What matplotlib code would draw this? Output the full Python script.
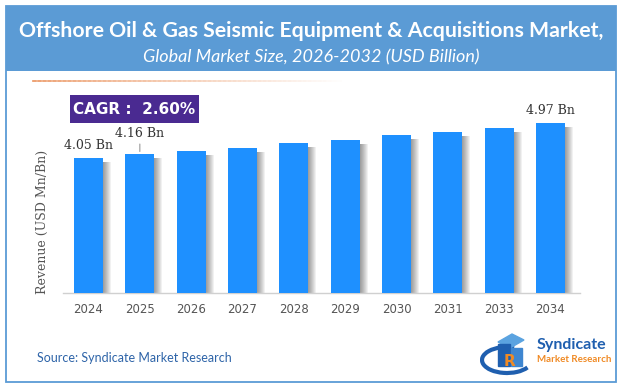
import matplotlib
matplotlib.use("Agg")
import matplotlib.pyplot as plt
from matplotlib.patches import Rectangle, Arc, Polygon
import numpy as np

years = ["2024", "2025", "2026", "2027", "2028", "2029", "2030", "2031", "2033", "2034"]
values = [4.05, 4.16, 4.27, 4.36, 4.49, 4.60, 4.73, 4.84, 4.96, 5.11]
label_text = {0: "4.05 Bn", 1: "4.16 Bn", 9: "4.97 Bn"}
title = "Offshore Oil & Gas Seismic Equipment & Acquisitions Market,"
subtitle = "Global Market Size, 2026-2032 (USD Billion)"
cagr = "CAGR :  2.60%"
source = "Source: Syndicate Market Research"

W, H = 622, 389
fig = plt.figure(figsize=(W / 100, H / 100), dpi=100)
fig.patch.set_facecolor("white")

def fx(x):
    return x / W

def fy(y):
    return 1 - y / H

band = "#5B9BD5"
fig.patches.append(Rectangle((fx(6), fy(71)), fx(610), 65 / H, transform=fig.transFigure,
                             facecolor=band, edgecolor="none", zorder=0))
fig.patches.append(Rectangle((fx(6), fy(382)), fx(610), 376 / H, transform=fig.transFigure,
                             facecolor="none", edgecolor=band, lw=1.3, zorder=5))
fig.text(fx(311), fy(31), title, color="white", fontsize=15.3, fontweight="bold",
         family="Lato", ha="center", va="center")
fig.text(fx(311), fy(57), subtitle, color="white", fontsize=13, style="italic",
         family="Lato", ha="center", va="center")

# dashed fading orange line
xs = np.arange(33, 340, 5)
for i, x0 in enumerate(xs):
    a = max(0.0, 1 - i / len(xs)) * 0.9
    fig.lines.append(plt.Line2D([fx(x0), fx(x0 + 3)], [fy(81), fy(81)], transform=fig.transFigure,
                                color="#E8864A", lw=1.2, alpha=a))

# axes
x_left, x_right, y_bot, y_top = 63, 580, 293, 93
ax = fig.add_axes([fx(x_left), fy(y_bot), (x_right - x_left) / W, (y_bot - y_top) / H])
pxu = 51.33
pyu = 33.35
ax.set_xlim(-(88.5 - x_left) / pxu, 9 + (x_right - 550.5) / pxu)
ax.set_ylim(0, (y_bot - y_top) / pyu)
for s in ["top", "right", "left"]:
    ax.spines[s].set_visible(False)
ax.spines["bottom"].set_color("#D0D0D0")
ax.spines["bottom"].set_linewidth(1)
ax.set_yticks([])
xpos = np.arange(len(years))
ax.set_xticks(xpos)
ax.set_xticklabels(years, fontsize=8.5, color="#555555", family="DejaVu Sans")
ax.tick_params(axis="x", length=0, pad=7)
ax.patch.set_alpha(0)

bw = 29 / pxu
dx = 1 / pxu
dy = 1 / pyu
for x, v in zip(xpos, values):
    right = x + bw / 2
    for k in range(10):
        ax.add_patch(Rectangle((right - 2 * dx, 0), (1 + k) * dx, v - 4 * dy,
                               facecolor="black", edgecolor="none", alpha=0.055, zorder=1))
ax.bar(xpos, values, width=bw, color="#1E90FF", zorder=3)

for i, t in label_text.items():
    off = 4 if i != 1 else 10
    ax.annotate(t, (xpos[i], values[i]), xytext=(0, off), textcoords="offset points",
                ha="center", va="bottom", fontsize=9, family="DejaVu Serif", color="#333333",
                zorder=6)
ax.annotate("", (xpos[1], values[1]), xytext=(xpos[1], values[1] + 13 * dy),
            arrowprops=dict(arrowstyle="-", color="#999999", lw=0.8))

fig.text(fx(42), fy(222), "Revenue (USD Mn/Bn)", rotation=90, ha="center", va="center",
         fontsize=9, family="DejaVu Serif", color="#555555")

# CAGR box
fig.patches.append(Rectangle((fx(70), fy(123)), 129 / W, 28 / H, transform=fig.transFigure,
                             facecolor="#4A2A91", edgecolor="none", zorder=4))
fig.text(fx(134), fy(109), cagr, color="white", fontsize=11, fontweight="bold",
         family="DejaVu Sans", ha="center", va="center", zorder=6)

fig.text(fx(37), fy(358), source, color="#2E64A8", fontsize=9, family="Lato",
         ha="left", va="center")

# logo
lax = fig.add_axes([fx(480), fy(380), 135 / W, 50 / H])
lax.set_xlim(0, 135)
lax.set_ylim(50, 0)
lax.axis("off")
lax.add_patch(Arc((27, 30), 50, 26, theta1=20, theta2=300, color="#1F5FAF", lw=3))
lax.add_patch(Polygon([[18, 12], [32, 4], [44, 10], [30, 18]], color="#5BA3E0"))
lax.add_patch(Rectangle((18, 14), 12, 22, color="#1F5FAF"))
lax.add_patch(Rectangle((31, 18), 11, 18, color="#3E86D0"))
lax.text(30, 31, "R", color="#F08A24", fontsize=11, fontweight="bold", ha="center", va="center")
lax.text(57, 15, "Syndicate", color="#1F5FAF", fontsize=11.5, fontweight="bold",
         family="Lato", ha="left", va="center")
lax.text(57, 29, "Market Research", color="#F08A24", fontsize=7, fontweight="bold",
         family="Lato", ha="left", va="center")

fig.savefig("out.png", dpi=100)
